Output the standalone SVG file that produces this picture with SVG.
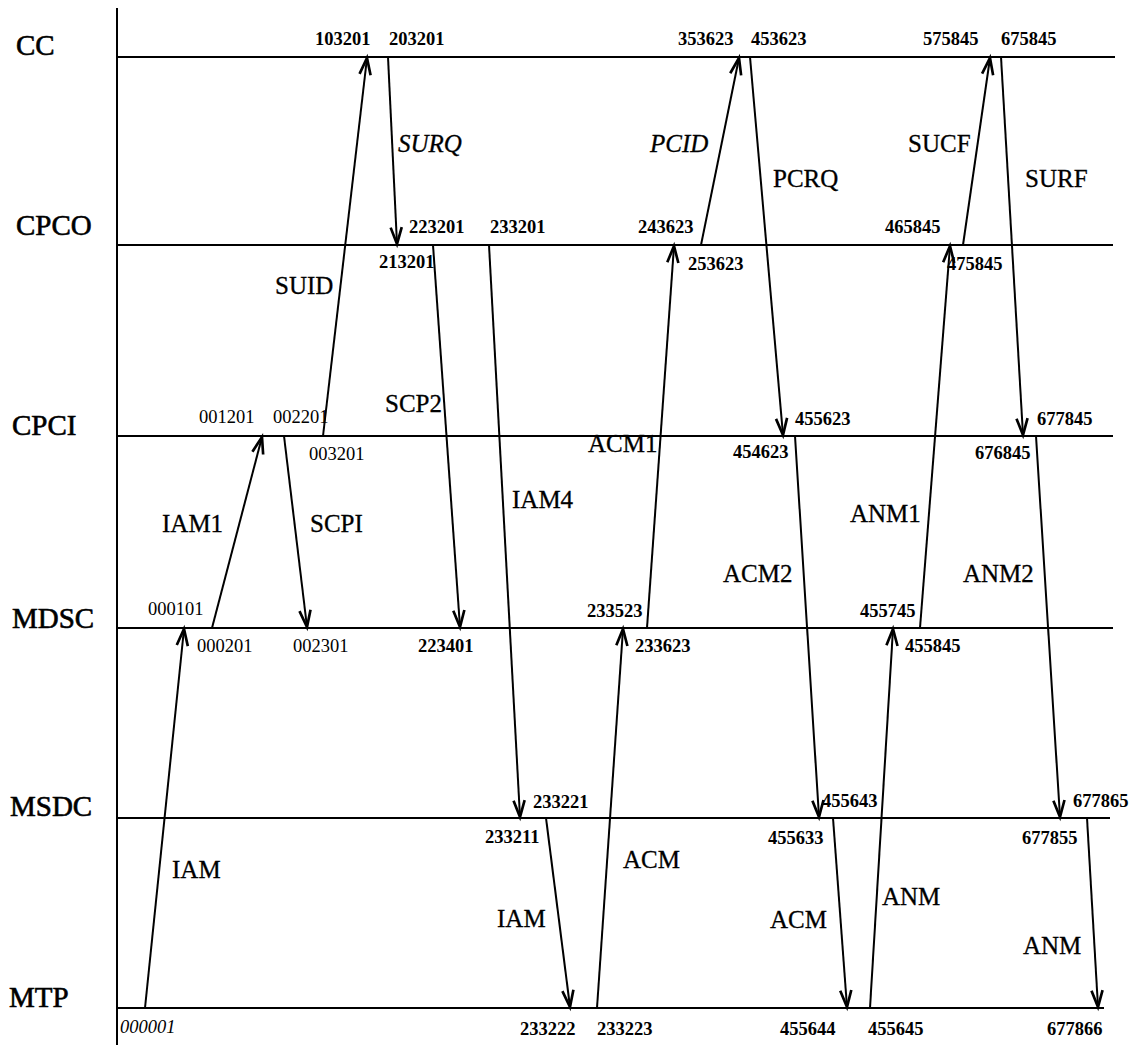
<svg xmlns="http://www.w3.org/2000/svg" width="1142" height="1053" viewBox="0 0 1142 1053">
<style>
.lane{stroke:#000;stroke-width:2;fill:none}
.lname{font-family:"Liberation Serif","Times New Roman",serif;font-size:29px;fill:#000;stroke:#000;stroke-width:0.6}
.msg{stroke:#000;stroke-width:2;fill:none;marker-end:url(#ah)}
.ml{font-family:"Liberation Serif","Times New Roman",serif;font-size:25px;fill:#000;stroke:#000;stroke-width:0.3}
.it{font-style:italic}
.ts{font-family:"Liberation Serif","Times New Roman",serif;font-size:18.5px;font-weight:bold;fill:#000}
.tl{font-family:"Liberation Serif","Times New Roman",serif;font-size:18.5px;fill:#000}
</style>
<defs>
<marker id="ah" markerUnits="userSpaceOnUse" markerWidth="20" markerHeight="20" viewBox="-16 -8 18 16" refX="0" refY="0" orient="auto" overflow="visible">
<path d="M-15,-5 L0,0 L-15,5" fill="none" stroke="#000" stroke-width="2.4"/>
</marker>
</defs>
<rect width="1142" height="1053" fill="#fff"/>
<line x1="117" y1="8" x2="117" y2="1045" class="lane"/>
<g id="lane-CC"><line x1="117" y1="57" x2="1115" y2="57" class="lane"/><text x="16" y="55" class="lname">CC</text></g>
<g id="lane-CPCO"><line x1="117" y1="245" x2="1113" y2="245" class="lane"/><text x="16" y="235" class="lname">CPCO</text></g>
<g id="lane-CPCI"><line x1="117" y1="436" x2="1113" y2="436" class="lane"/><text x="12" y="435" class="lname">CPCI</text></g>
<g id="lane-MDSC"><line x1="117" y1="628" x2="1113" y2="628" class="lane"/><text x="12" y="628" class="lname">MDSC</text></g>
<g id="lane-MSDC"><line x1="117" y1="818" x2="1110" y2="818" class="lane"/><text x="10" y="816" class="lname">MSDC</text></g>
<g id="lane-MTP"><line x1="117" y1="1008" x2="1104" y2="1008" class="lane"/><text x="9" y="1007" class="lname">MTP</text></g>
<g id="connectors">
<line x1="145" y1="1008" x2="184" y2="629" class="msg"/>
<line x1="212" y1="628" x2="262" y2="437" class="msg"/>
<line x1="284" y1="436" x2="307" y2="627" class="msg"/>
<line x1="323" y1="436" x2="367" y2="58" class="msg"/>
<line x1="388" y1="57" x2="397" y2="244" class="msg"/>
<line x1="433" y1="245" x2="460" y2="627" class="msg"/>
<line x1="489" y1="245" x2="520" y2="817" class="msg"/>
<line x1="546" y1="818" x2="570" y2="1007" class="msg"/>
<line x1="597" y1="1008" x2="623" y2="629" class="msg"/>
<line x1="647" y1="628" x2="674" y2="246" class="msg"/>
<line x1="701" y1="245" x2="739" y2="58" class="msg"/>
<line x1="750" y1="57" x2="783" y2="435" class="msg"/>
<line x1="795" y1="436" x2="819" y2="817" class="msg"/>
<line x1="833" y1="818" x2="847" y2="1007" class="msg"/>
<line x1="870" y1="1008" x2="893" y2="629" class="msg"/>
<line x1="920" y1="628" x2="950" y2="246" class="msg"/>
<line x1="963" y1="245" x2="990" y2="58" class="msg"/>
<line x1="1001" y1="57" x2="1023" y2="435" class="msg"/>
<line x1="1036" y1="436" x2="1060" y2="817" class="msg"/>
<line x1="1087" y1="818" x2="1098" y2="1007" class="msg"/>
</g>
<g id="message-labels">
<text x="172" y="878" class="ml">IAM</text>
<text x="162" y="532" class="ml">IAM1</text>
<text x="310" y="532" class="ml">SCPI</text>
<text x="275" y="294" class="ml">SUID</text>
<text x="398" y="152" class="ml it">SURQ</text>
<text x="385" y="412" class="ml">SCP2</text>
<text x="512" y="508" class="ml">IAM4</text>
<text x="497" y="927" class="ml">IAM</text>
<text x="623" y="868" class="ml">ACM</text>
<text x="588" y="452" class="ml">ACM1</text>
<text x="650" y="152" class="ml it">PCID</text>
<text x="773" y="187" class="ml">PCRQ</text>
<text x="723" y="582" class="ml">ACM2</text>
<text x="770" y="928" class="ml">ACM</text>
<text x="882" y="905" class="ml">ANM</text>
<text x="850" y="522" class="ml">ANM1</text>
<text x="908" y="152" class="ml">SUCF</text>
<text x="1025" y="187" class="ml">SURF</text>
<text x="963" y="582" class="ml">ANM2</text>
<text x="1023" y="954" class="ml">ANM</text>
</g>
<g id="timestamps">
<text x="315" y="45" class="ts">103201</text>
<text x="389" y="45" class="ts">203201</text>
<text x="678" y="45" class="ts">353623</text>
<text x="751" y="45" class="ts">453623</text>
<text x="923" y="45" class="ts">575845</text>
<text x="1001" y="45" class="ts">675845</text>
<text x="409" y="233" class="ts">223201</text>
<text x="490" y="233" class="ts">233201</text>
<text x="638" y="233" class="ts">243623</text>
<text x="885" y="233" class="ts">465845</text>
<text x="379" y="268" class="ts">213201</text>
<text x="688" y="270" class="ts">253623</text>
<text x="947" y="270" class="ts">475845</text>
<text x="199" y="423" class="tl">001201</text>
<text x="273" y="423" class="tl">002201</text>
<text x="309" y="460" class="tl">003201</text>
<text x="795" y="425" class="ts">455623</text>
<text x="733" y="458" class="ts">454623</text>
<text x="1037" y="425" class="ts">677845</text>
<text x="975" y="459" class="ts">676845</text>
<text x="148" y="615" class="tl">000101</text>
<text x="197" y="652" class="tl">000201</text>
<text x="293" y="652" class="tl">002301</text>
<text x="418" y="652" class="ts">223401</text>
<text x="587" y="617" class="ts">233523</text>
<text x="635" y="652" class="ts">233623</text>
<text x="860" y="617" class="ts">455745</text>
<text x="905" y="652" class="ts">455845</text>
<text x="533" y="808" class="ts">233221</text>
<text x="485" y="843" class="ts">233211</text>
<text x="822" y="807" class="ts">455643</text>
<text x="768" y="844" class="ts">455633</text>
<text x="1073" y="807" class="ts">677865</text>
<text x="1022" y="844" class="ts">677855</text>
<text x="120" y="1033" class="tl it">000001</text>
<text x="520" y="1035" class="ts">233222</text>
<text x="597" y="1035" class="ts">233223</text>
<text x="780" y="1035" class="ts">455644</text>
<text x="868" y="1035" class="ts">455645</text>
<text x="1047" y="1035" class="ts">677866</text>
</g>
</svg>
